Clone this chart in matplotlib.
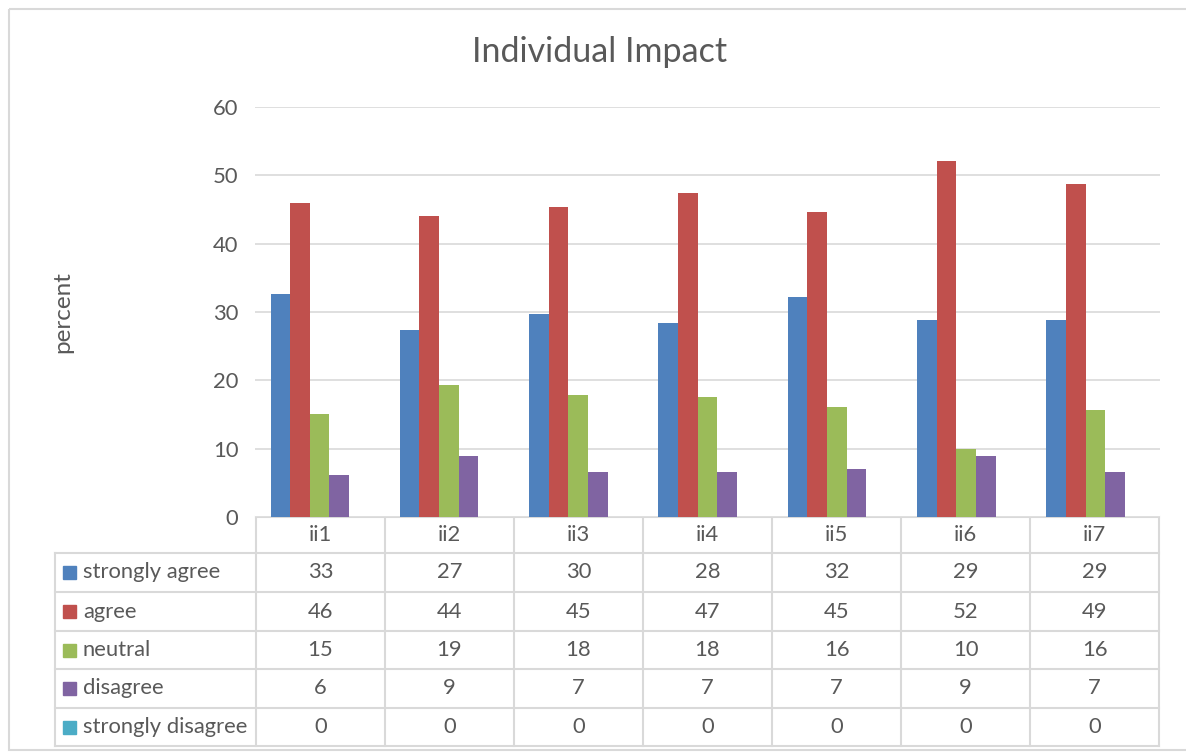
import numpy as np
import matplotlib.pyplot as plt
from matplotlib.patches import Rectangle

plt.rcParams['font.family'] = ['Lato', 'DejaVu Sans']

# Data
items = ['ii1', 'ii2', 'ii3', 'ii4', 'ii5', 'ii6', 'ii7']
series = ['strongly agree', 'agree', 'neutral', 'disagree', 'strongly disagree']
strongly_agree = [32.6, 27.4, 29.7, 28.4, 32.2, 28.8, 28.8]
agree = [46.0, 44.0, 45.4, 47.4, 44.6, 52.1, 48.7]
neutral = [15.1, 19.3, 17.9, 17.6, 16.1, 10.0, 15.7]
disagree = [6.1, 8.9, 6.6, 6.6, 7.0, 8.9, 6.6]
strongly_disagree = [0, 0, 0, 0, 0, 0, 0]
values = [strongly_agree, agree, neutral, disagree, strongly_disagree]
colors = ['#4F81BD', '#C0504D', '#9BBB59', '#8064A2', '#4BACC6']

text_col = '#595959'
grid_col = '#D9D9D9'
fs = 15.8

W, H = 1186, 754
fig = plt.figure(figsize=(W / 100, H / 100), dpi=100)

# pixel-space overlay for frame, title, axis label and data table
ov = fig.add_axes([0, 0, 1, 1])
ov.set_xlim(0, W)
ov.set_ylim(H, 0)
ov.axis('off')

# chart area
left, right, bottom, top = 255, 1160, 517, 107
ax = fig.add_axes([left / W, (H - bottom) / H, (right - left) / W, (bottom - top) / H])

x = np.arange(len(items))
bw = 0.152
for i, (vals, c) in enumerate(zip(values, colors)):
    ax.bar(x + (i - 2) * bw, vals, bw, color=c, zorder=3)

ax.set_xlim(-0.5, len(items) - 0.5)
ax.set_ylim(0, 60)
ax.set_yticks(range(0, 61, 10))
ax.set_xticks([])
ax.yaxis.grid(True, color=grid_col, linewidth=1.2, zorder=0)
for s in ax.spines.values():
    s.set_visible(False)
ax.tick_params(axis='y', length=0, pad=12, labelsize=fs, labelcolor=text_col)

ov.text(600, 52, 'Individual Impact', ha='center', va='center', fontsize=24.5, color=text_col)
ov.text(63, 312, 'percent', ha='center', va='center', rotation=90, fontsize=17.5, color=text_col)

# outer frame
ov.add_patch(Rectangle((9, 9), W, H - 13, fill=False, edgecolor=grid_col, linewidth=1.5))

# data table
col_w = (right - 1 - 256) / len(items)
col_x = [256 + k * col_w for k in range(len(items) + 1)]
row_y = [517, 553, 592, 631, 669, 708, 746]
lw = 1.5
ov.plot([256, col_x[-1]], [row_y[0], row_y[0]], color=grid_col, lw=lw)
for yy in row_y[1:]:
    ov.plot([55, col_x[-1]], [yy, yy], color=grid_col, lw=lw)
ov.plot([55, 55], [row_y[1], row_y[-1]], color=grid_col, lw=lw)
for xx in col_x:
    ov.plot([xx, xx], [row_y[0], row_y[-1]], color=grid_col, lw=lw)

for k, name in enumerate(items):
    cx = (col_x[k] + col_x[k + 1]) / 2
    ov.text(cx, (row_y[0] + row_y[1]) / 2, name, ha='center', va='center',
            fontsize=fs, color=text_col)
for r, (name, vals, c) in enumerate(zip(series, values, colors)):
    cy = (row_y[r + 1] + row_y[r + 2]) / 2
    ov.add_patch(Rectangle((63, cy - 6.5), 13, 13, color=c))
    ov.text(83, cy, name, ha='left', va='center', fontsize=fs, color=text_col)
    for k, v in enumerate(vals):
        cx = (col_x[k] + col_x[k + 1]) / 2
        ov.text(cx, cy, f'{round(v):d}', ha='center', va='center',
                fontsize=fs, color=text_col)

fig.savefig('out.png', dpi=100)
